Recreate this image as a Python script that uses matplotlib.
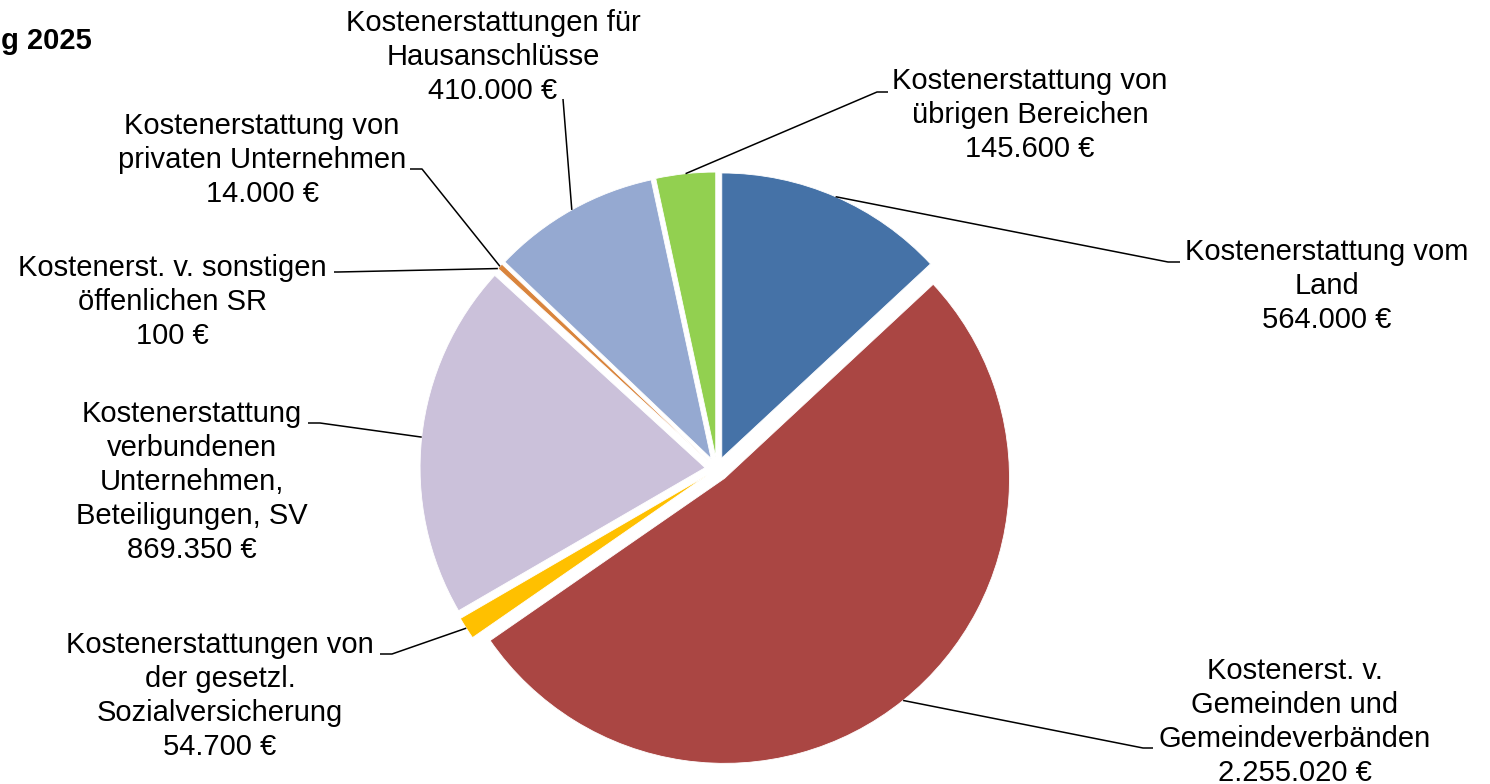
import numpy as np
import matplotlib
matplotlib.use("Agg")
import matplotlib.pyplot as plt

plt.rcParams['font.family'] = ['Liberation Sans', 'DejaVu Sans']

# ---- data ----
labels = [
    "Kostenerstattung vom\nLand\n564.000 €",
    "Kostenerst. v.\nGemeinden und\nGemeindeverbänden\n2.255.020 €",
    "Kostenerstattungen von\nder gesetzl.\nSozialversicherung\n54.700 €",
    "Kostenerstattung\nverbundenen\nUnternehmen,\nBeteiligungen, SV\n869.350 €",
    "Kostenerst. v. sonstigen\nöffenlichen SR\n100 €",
    "Kostenerstattung von\nprivaten Unternehmen\n14.000 €",
    "Kostenerstattungen für\nHausanschlüsse\n410.000 €",
    "Kostenerstattung von\nübrigen Bereichen\n145.600 €",
]
values = [564000, 2255020, 54700, 869350, 100, 14000, 410000, 145600]
colors = ["#4572A7", "#AA4643", "#FFC000", "#CBC1DA", "#E0823A", "#D9843C",
          "#95A9D1", "#92D050"]
title = "g 2025"

# ---- layout (pixel coordinates, y measured from top) ----
W, H = 1490, 784
CX, CY, R = 717, 469, 285
EXPLODE_PX = 12
# label centre, elbow point, end of horizontal stub
label_pos = [(1327, 286), (1295, 722), (220, 696), (192, 482),
             (172, 302), (262, 160), (493, 57), (1030, 115)]
elbows = [((1168, 262), (1180, 262)),
          ((1143, 748), (1153, 748)),
          ((392, 654), (380, 654)),
          ((320, 423), (308, 423)),
          ((338, 272), (334, 272)),
          ((422, 169), (410, 169)),
          ((563, 99), (563, 99)),
          ((877, 92), (888, 92))]

fig = plt.figure(figsize=(W / 100, H / 100), dpi=100)
ax = fig.add_axes([0, 0, 1, 1])


def fy(y):
    return H - y


wedges, _ = ax.pie(values, colors=colors, startangle=90, counterclock=False,
                   center=(CX, fy(CY)), radius=R,
                   explode=[EXPLODE_PX] * len(values),
                   wedgeprops=dict(edgecolor='white', linewidth=0.6),
                   frame=True)
ax.set_xlim(0, W)
ax.set_ylim(0, H)
ax.set_aspect('equal')
ax.axis('off')

for i, w in enumerate(wedges):
    th = np.deg2rad((w.theta1 + w.theta2) / 2)
    cx, cy = w.center
    r = w.r
    ax0 = cx + r * np.cos(th)
    ay0 = cy + r * np.sin(th)
    (ex, ey), (sx, sy) = elbows[i]
    ax.plot([ax0, ex, sx], [ay0, fy(ey), fy(sy)], color='black', lw=1.1,
            solid_capstyle='butt', zorder=3)
    lx, ly = label_pos[i]
    ax.text(lx, fy(ly), labels[i], ha='center', va='center',
            multialignment='center', fontsize=21, linespacing=1.27,
            color='black')

ax.text(1, fy(41), title, ha='left', va='center', fontsize=21,
        fontweight='bold')

fig.savefig("out.png", dpi=100)
